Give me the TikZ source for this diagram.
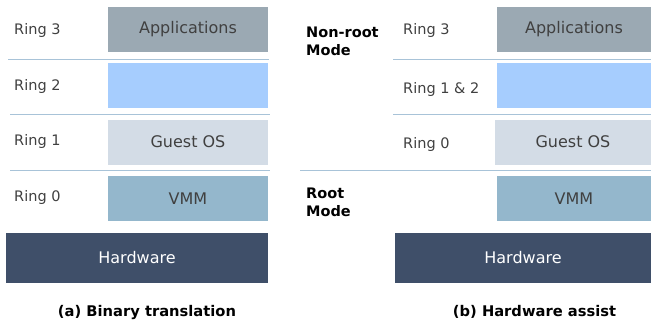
\documentclass[tikz,border=0pt]{standalone}
\usepackage{fontspec}
\setmainfont{DejaVu Sans}
\usetikzlibrary{calc}
\definecolor{appgray}{HTML}{9BA9B3}
\definecolor{freeblue}{HTML}{A6CDFE}
\definecolor{guestgray}{HTML}{D3DCE6}
\definecolor{vmmblue}{HTML}{94B7CC}
\definecolor{hwnavy}{HTML}{3F4F69}
\definecolor{sepblue}{HTML}{A8C3D8}
\definecolor{textgray}{HTML}{404040}
\tikzset{
  layer/.style={fill=#1, draw=none, minimum height=45pt, inner sep=0pt,
    text=textgray, font=\fontsize{16}{18}\selectfont},
  hwlayer/.style={fill=hwnavy, draw=none, minimum height=50pt, inner sep=0pt,
    text=white, font=\fontsize{16}{18}\selectfont},
  ringlabel/.style={anchor=base west, inner sep=0pt, text=textgray,
    font=\fontsize{14.5}{16}\selectfont},
  modelabel/.style={anchor=base west, inner sep=0pt, align=left,
    font=\bfseries\fontsize{14.5}{18}\selectfont},
  caption/.style={anchor=base, inner sep=0pt, font=\bfseries\fontsize{14.7}{18}\selectfont},
  sepline/.style={draw=sepblue, line width=0.8pt}
}
\begin{document}
\begin{tikzpicture}[x=1pt,y=-1pt]
    \useasboundingbox (0,0) rectangle (651,325);
    % box widths
    \def\lw{160}
    \def\rw{155}
    % (a) binary translation
    \node[layer=appgray, minimum width=\lw] (appA) at (188,29.5) {Applications};
    \node[layer=freeblue, minimum width=\lw] (freeA) at (188,85.5) {};
    \node[layer=guestgray, minimum width=\lw] (guestA) at (188,142) {Guest OS};
    \node[layer=vmmblue, minimum width=\lw] (vmmA) at (188,198.5) {VMM};
    \node[hwlayer, minimum width=262] (hwA) at (137,258) {Hardware};
    \node[ringlabel] (r3A) at (14,34.5) {Ring 3};
    \node[ringlabel] (r2A) at (14,90.5) {Ring 2};
    \node[ringlabel] (r1A) at (14,145.5) {Ring 1};
    \node[ringlabel] (r0A) at (14,201.5) {Ring 0};
    \draw[sepline] (8,59) -- (269,59);
    \draw[sepline] (10,114) -- (270,114);
    \draw[sepline] (10,170) -- (270,170);
    \node[caption] (capA) at (147,316.5) {(a) Binary translation};
    % (b) hardware assist
    \node[layer=appgray, minimum width=\rw] (appB) at (574,29.5) {Applications};
    \node[layer=freeblue, minimum width=\rw] (freeB) at (574,85.5) {};
    \node[layer=guestgray, minimum width=157] (guestB) at (573,142) {Guest OS};
    \node[layer=vmmblue, minimum width=\rw] (vmmB) at (574,198.5) {VMM};
    \node[hwlayer, minimum width=256] (hwB) at (523,258) {Hardware};
    \node[ringlabel] (r3B) at (403,34.5) {Ring 3};
    \node[ringlabel] (r12B) at (403,93.5) {Ring 1 \& 2};
    \node[ringlabel] (r0B) at (403,148.5) {Ring 0};
    % base anchor sits on the last line
    \node[modelabel] (nonroot) at (306,55) {Non-root\\Mode};
    \node[modelabel] (root) at (306,216) {Root\\Mode};
    \draw[sepline] (393,59) -- (651,59);
    \draw[sepline] (393,114) -- (651,114);
    \draw[sepline] (300,170) -- (651,170);
    \node[caption] (capB) at (534.5,316.5) {(b) Hardware assist};
\end{tikzpicture}
\end{document}
